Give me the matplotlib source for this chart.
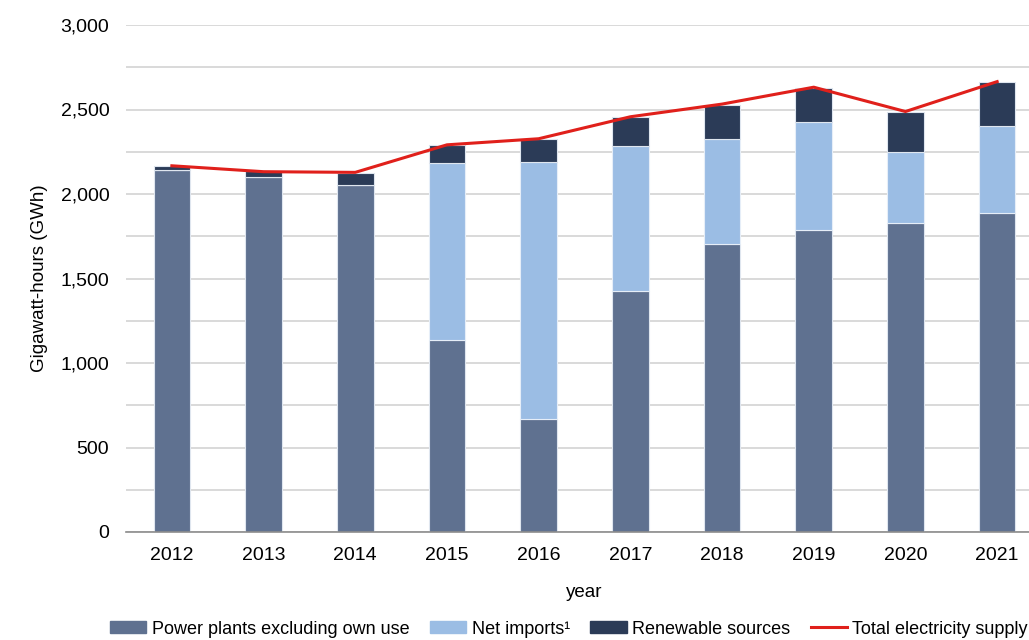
import matplotlib.pyplot as plt
from matplotlib.patches import Patch
from matplotlib.lines import Line2D
from matplotlib.ticker import MultipleLocator, FuncFormatter

plt.rcParams['font.family'] = ['Liberation Sans', 'DejaVu Sans']

years = ['2012', '2013', '2014', '2015', '2016', '2017', '2018', '2019', '2020', '2021']
power_plants = [2140, 2098, 2053, 1134, 667, 1425, 1707, 1789, 1829, 1888]
net_imports = [0, 0, 0, 1051, 1520, 859, 618, 636, 417, 512]
renewables = [25, 36, 73, 102, 136, 169, 201, 203, 242, 262]
total_supply = [2167, 2132, 2128, 2291, 2327, 2457, 2532, 2632, 2488, 2665]

c_power = '#5f7190'
c_imports = '#9bbde4'
c_renew = '#2b3b57'
c_total = '#e0201b'

fig = plt.figure(figsize=(10.29, 6.4), dpi=100)
ax = fig.add_axes([126 / 1029, 108 / 640, 917 / 1029, 507 / 640])

x = range(len(years))
w = 0.4
ax.bar(x, power_plants, w, color=c_power, edgecolor='#dfe6ef', linewidth=0.8, zorder=3)
bottom2 = power_plants
ax.bar(x, net_imports, w, bottom=bottom2, color=c_imports, edgecolor='#e6eef8', linewidth=0.8, zorder=3)
bottom3 = [a + b for a, b in zip(power_plants, net_imports)]
ax.bar(x, renewables, w, bottom=bottom3, color=c_renew, edgecolor='#dfe6ef', linewidth=0.8, zorder=3)
ax.plot(x, total_supply, color=c_total, linewidth=2.2, zorder=4)

ax.set_xlim(-0.5, 9.5)
ax.set_ylim(0, 3000)
ax.set_xticks(list(x))
ax.set_xticklabels(years)
ax.yaxis.set_major_locator(MultipleLocator(500))
ax.yaxis.set_minor_locator(MultipleLocator(250))
ax.yaxis.set_major_formatter(FuncFormatter(lambda v, p: '{:,.0f}'.format(v)))
ax.grid(axis='y', which='both', color='#d9d9d9', linewidth=1.4, zorder=0)
ax.tick_params(axis='both', which='both', length=0, labelsize=14)
ax.tick_params(axis='y', pad=12)
ax.tick_params(axis='x', pad=11)
for s in ['top', 'right', 'left']:
    ax.spines[s].set_visible(False)
ax.spines['bottom'].set_color('#8c8c8c')
ax.spines['bottom'].set_linewidth(1.2)
ax.spines['bottom'].set_zorder(5)

ax.set_ylabel('Gigawatt-hours (GWh)', fontsize=13.5, labelpad=9)
ax.set_xlabel('year', fontsize=13.5, labelpad=14)

handles = [
    Patch(color=c_power, label='Power plants excluding own use'),
    Patch(color=c_imports, label='Net imports¹'),
    Patch(color=c_renew, label='Renewable sources'),
    Line2D([0], [0], color=c_total, linewidth=2.2, label='Total electricity supply'),
]
fig.legend(handles=handles, loc='center', bbox_to_anchor=(569 / 1029, 1 - 629 / 640),
           ncol=4, frameon=False, fontsize=13, handlelength=2.0, handleheight=0.6,
           handletextpad=0.3, columnspacing=1.15, borderpad=0, borderaxespad=0)

fig.savefig('out.png', dpi=100)
